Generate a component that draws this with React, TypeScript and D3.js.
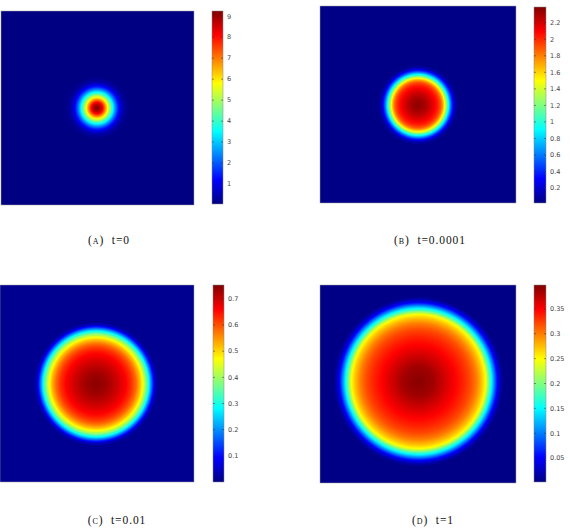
import React, { useMemo } from 'react';
import * as d3 from 'd3';

// radial profiles: distance from centre (px) -> value
const radiiA = [0, 3, 6, 9, 12, 15, 18, 21, 24, 27, 30, 34];
const valuesA = [9.2, 8.9, 8.0, 6.6, 5.2, 3.9, 2.6, 1.5, 0.7, 0.3, 0.1, 0.05];

const radiiB = [0, 5, 10, 15, 20, 23, 25, 27, 29, 31, 33, 35, 37, 40];
const valuesB = [2.36, 2.32, 2.25, 2.15, 2.02, 1.88, 1.7, 1.45, 1.15, 0.85, 0.55, 0.3, 0.12, 0.03];

const radiiC = [0, 10, 20, 30, 36, 40, 44, 47, 50, 53, 55, 57, 59, 62];
const valuesC = [0.745, 0.73, 0.7, 0.66, 0.62, 0.58, 0.52, 0.46, 0.38, 0.28, 0.2, 0.12, 0.05, 0.01];

const radiiD = [0, 15, 30, 45, 52, 58, 63, 67, 70, 73, 76, 79, 82, 85];
const valuesD = [0.395, 0.385, 0.36, 0.335, 0.32, 0.3, 0.275, 0.25, 0.2, 0.15, 0.1, 0.05, 0.02, 0.003];

// colour limits of each colorbar
const domainA = [0.05, 9.25];
const domainB = [0.02, 2.39];
const domainC = [0.0, 0.753];
const domainD = [0.002, 0.398];

const ticksA = [1, 2, 3, 4, 5, 6, 7, 8, 9];
const ticksB = [0.2, 0.4, 0.6, 0.8, 1, 1.2, 1.4, 1.6, 1.8, 2, 2.2];
const ticksC = [0.1, 0.2, 0.3, 0.4, 0.5, 0.6, 0.7];
const ticksD = [0.05, 0.1, 0.15, 0.2, 0.25, 0.3, 0.35];

const labelsCap = ['(a)', '(b)', '(c)', '(d)'];
const labelsT = ['t=0', 't=0.0001', 't=0.01', 't=1'];

// jet colormap
const jetStops = [0, 0.125, 0.375, 0.625, 0.875, 1];
const jetColors = ['#000083', '#0000ff', '#00ffff', '#ffff00', '#ff0000', '#800000'];

const jet = d3.scaleLinear<string>().domain(jetStops).range(jetColors).interpolate(d3.interpolateRgb).clamp(true);

function Panel(props) {
  const { hm, cb, cx, cy, radii, values, domain, ticks, cap, t, capX, capY, id } = props;

  const href = useMemo(() => {
    const prof = d3.scaleLinear().domain(radii).range(values).clamp(true);
    const norm = d3.scaleLinear().domain(domain).range([0, 1]).clamp(true);
    const canvas = document.createElement('canvas');
    canvas.width = hm.w;
    canvas.height = hm.h;
    const ctx = canvas.getContext('2d');
    const img = ctx.createImageData(hm.w, hm.h);
    for (let j = 0; j < hm.h; j++) {
      for (let i = 0; i < hm.w; i++) {
        const r = Math.hypot(hm.x + i + 0.5 - cx, hm.y + j + 0.5 - cy);
        const c = d3.rgb(jet(norm(prof(r))));
        const k = (j * hm.w + i) * 4;
        img.data[k] = c.r;
        img.data[k + 1] = c.g;
        img.data[k + 2] = c.b;
        img.data[k + 3] = 255;
      }
    }
    ctx.putImageData(img, 0, 0);
    return canvas.toDataURL();
  }, []);

  const y = d3.scaleLinear().domain(domain).range([cb.y + cb.h, cb.y]);

  return (
    <g>
      <image href={href} x={hm.x} y={hm.y} width={hm.w} height={hm.h} />
      <rect x={hm.x} y={hm.y} width={hm.w} height={hm.h} fill="none" stroke="#a0a0a0" strokeWidth={0.5} />
      <defs>
        <linearGradient id={'cb' + id} x1="0" y1="1" x2="0" y2="0">
          {jetStops.map((s, i) => (
            <stop key={i} offset={s} stopColor={jetColors[i]} />
          ))}
        </linearGradient>
      </defs>
      <rect x={cb.x} y={cb.y} width={cb.w} height={cb.h} fill={'url(#cb' + id + ')'} stroke="#888" strokeWidth={0.5} />
      {ticks.map((v) => (
        <g key={v}>
          <line x1={cb.x + cb.w - 2} x2={cb.x + cb.w} y1={y(v)} y2={y(v)} stroke="#333" strokeWidth={0.5} />
          <line x1={cb.x} x2={cb.x + 2} y1={y(v)} y2={y(v)} stroke="#333" strokeWidth={0.5} />
          <text x={cb.x + cb.w + 4} y={y(v)} dy="0.35em" fontFamily="DejaVu Sans, sans-serif" fontSize={6.5} fill="#444">
            {String(v)}
          </text>
        </g>
      ))}
      <text x={capX} y={capY} textAnchor="middle" fontFamily="Liberation Serif, serif" fontSize={11.5} letterSpacing={0.9} fill="#111">
        <tspan style={{ fontVariant: 'small-caps' }}>{cap}</tspan>{'\u00a0 '}{t}
      </text>
    </g>
  );
}

export default function App() {
  return (
    <svg width={570} height={528} style={{ position: 'absolute', left: 0, top: 0, background: '#fff' }}>
      <Panel id="a" hm={{ x: 1, y: 11, w: 193, h: 194 }} cb={{ x: 212, y: 11, w: 11, h: 193 }} cx={97} cy={108}
        radii={radiiA} values={valuesA} domain={domainA} ticks={ticksA} cap={labelsCap[0]} t={labelsT[0]} capX={109} capY={244} />
      <Panel id="b" hm={{ x: 320, y: 6, w: 196, h: 197 }} cb={{ x: 534, y: 7, w: 12, h: 196 }} cx={418} cy={105}
        radii={radiiB} values={valuesB} domain={domainB} ticks={ticksB} cap={labelsCap[1]} t={labelsT[1]} capX={430} capY={244} />
      <Panel id="c" hm={{ x: 0, y: 285, w: 194, h: 197 }} cb={{ x: 213, y: 285, w: 11, h: 197 }} cx={96} cy={384}
        radii={radiiC} values={valuesC} domain={domainC} ticks={ticksC} cap={labelsCap[2]} t={labelsT[2]} capX={117} capY={524} />
      <Panel id="d" hm={{ x: 320, y: 285, w: 196, h: 198 }} cb={{ x: 534, y: 285, w: 12, h: 197 }} cx={418.5} cy={381.5}
        radii={radiiD} values={valuesD} domain={domainD} ticks={ticksD} cap={labelsCap[3]} t={labelsT[3]} capX={433} capY={524} />
    </svg>
  );
}
